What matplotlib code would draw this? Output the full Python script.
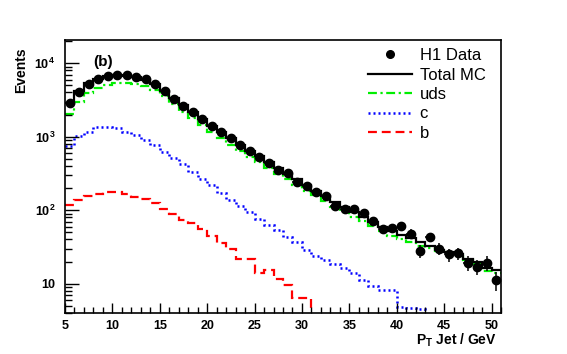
import numpy as np
import matplotlib
matplotlib.use('Agg')
from matplotlib import pyplot as plt
from matplotlib.lines import Line2D
from matplotlib.ticker import FixedLocator, MultipleLocator, LogLocator, NullFormatter

# 1 GeV bins from 5 to 51 GeV
bin_edges = list(range(5, 52))

data_counts = [2877, 4064, 5256, 6053, 6611, 6928, 6928, 6569, 6053, 5143,
               4129, 3263, 2620, 2191, 1726, 1413, 1148, 960, 771, 645,
               529, 442, 352, 317, 244, 213, 179, 156, 114, 105,
               105, 91, 72, 55, 57, 61, 48, 28, 43, 30,
               25, 26, 19.3, 17.1, 19.2, 11.2]

total_mc = [2900, 4150, 5300, 6100, 6650, 6850, 6800, 6500, 6000, 5200,
            4250, 3380, 2700, 2200, 1760, 1420, 1160, 950, 780, 640,
            540, 450, 375, 315, 262, 218, 185, 155, 130, 110,
            95, 82, 70, 60, 52, 46, 42, 37, 33, 29,
            27, 25, 22, 19.5, 16.5, 15.5]

uds_mc = [2036, 2990, 3986, 4590, 5106, 5348, 5462, 5292, 4956, 4305,
          3534, 2784, 2202, 1800, 1442, 1156, 951, 783, 645, 524,
          451, 372, 310, 262, 219, 183, 161, 134, 112, 94,
          81, 71, 61, 52, 44, 41, 37, 32.5, 31, 27.5,
          25.5, 23.5, 21, 18.5, 15, 14]

c_mc = [747, 1023, 1158, 1344, 1368, 1326, 1170, 1055, 902, 771,
        613, 508, 425, 333, 263, 220, 173, 137, 114, 95,
        75, 63, 54, 43, 37, 29, 23.7, 20.9, 18.4, 16.3,
        13.9, 11.2, 9.2, 8.2, 8.2, 4.8, 4.7, 4.5, 0, 0,
        0, 0, 0, 0, 0, 0]

b_mc = [117, 137, 156, 166, 176, 176, 168, 153, 142, 124,
        103, 88, 73, 67, 55, 44, 36, 30, 21.4, 21.4,
        13.9, 15.3, 11.5, 9.5, 6.3, 6.3, 0, 0, 0, 0,
        0, 0, 0, 0, 0, 0, 0, 0, 0, 0,
        0, 0, 0, 0, 0, 0]

legend_labels = ['H1 Data', 'Total MC', 'uds', 'c', 'b']

plt.rcParams['font.family'] = ['Liberation Sans', 'DejaVu Sans']
plt.rcParams['mathtext.fontset'] = 'custom'
plt.rcParams['mathtext.rm'] = 'Liberation Sans:bold'
plt.rcParams['mathtext.bf'] = 'Liberation Sans:bold'
plt.rcParams['mathtext.it'] = 'Liberation Sans:bold'

edges = np.array(bin_edges, dtype=float)
centers = 0.5 * (edges[:-1] + edges[1:])
data = np.array(data_counts)
errors = np.sqrt(data)

fig = plt.figure(figsize=(5.67, 3.54), dpi=100)
ax = fig.add_axes([65 / 567, 1 - 313 / 354, 436 / 567, 273 / 354])
ax.set_yscale('log', nonpositive='clip')

lime = '#00ee00'
ax.stairs(b_mc, edges, color='red', linestyle=(0, (4, 2.2)), lw=1.6, baseline=None)
ax.stairs(c_mc, edges, color='blue', linestyle=(0, (0.8, 1.2)), lw=1.8, baseline=None)
ax.stairs(uds_mc, edges, color=lime, linestyle=(0, (4, 1.6, 1, 1.6)), lw=1.6, baseline=None)
ax.stairs(total_mc, edges, color='black', lw=1.6, baseline=None)
ax.errorbar(centers, data, yerr=errors, xerr=0.5, fmt='o', color='black',
            ms=6, elinewidth=1.1, capsize=0)

ax.set_xlim(5, 51)
ax.set_ylim(4, 2.07e4)

# axis ticks, ROOT style
ax.xaxis.set_major_locator(MultipleLocator(5))
ax.xaxis.set_minor_locator(MultipleLocator(1))
ax.yaxis.set_major_locator(FixedLocator([10, 100, 1000, 10000]))
ax.yaxis.set_minor_locator(LogLocator(base=10, subs=np.arange(2, 10)))
ax.yaxis.set_minor_formatter(NullFormatter())
ax.set_yticklabels(['10', '10$^{2}$', '10$^{3}$', '10$^{4}$'])
ax.tick_params(which='both', direction='in', top=False, right=False, width=1.0,
               labelsize=9)
ax.tick_params(axis='x', which='major', length=7, pad=5)
ax.tick_params(axis='x', which='minor', length=4)
ax.tick_params(axis='y', which='major', length=10, pad=7)
ax.tick_params(axis='y', which='minor', length=5)
for lab in ax.get_xticklabels() + ax.get_yticklabels():
    lab.set_fontweight('bold')
for sp in ax.spines.values():
    sp.set_linewidth(1.2)

fig.text(21 / 567, 1 - 70 / 354, 'Events', rotation=90, ha='center', va='center',
         fontsize=10, fontweight='bold')
fig.text(497 / 567, 1 - 340 / 354, 'P$_{\\mathregular{T}}$ Jet / GeV', ha='right',
         va='center', fontsize=10, fontweight='bold')
ax.text(0.064, 0.918, '(b)', transform=ax.transAxes, ha='left', va='center',
        fontsize=11, fontweight='bold')

handles = [
    Line2D([], [], marker='o', color='black', ls='none', ms=5.5),
    Line2D([], [], color='black', lw=1.6),
    Line2D([], [], color=lime, lw=1.6, linestyle=(0, (4, 1.6, 1, 1.6))),
    Line2D([], [], color='blue', lw=1.8, linestyle=(0, (0.8, 1.2))),
    Line2D([], [], color='red', lw=1.6, linestyle=(0, (4, 2.2))),
]
fig.legend(handles, legend_labels, loc='upper left',
           bbox_to_anchor=(368 / 567, 1 - 48 / 354), frameon=False,
           fontsize=12, handlelength=2.65, handletextpad=0.45, labelspacing=0.27,
           borderpad=0, borderaxespad=0)

fig.savefig('out.png', dpi=100)
